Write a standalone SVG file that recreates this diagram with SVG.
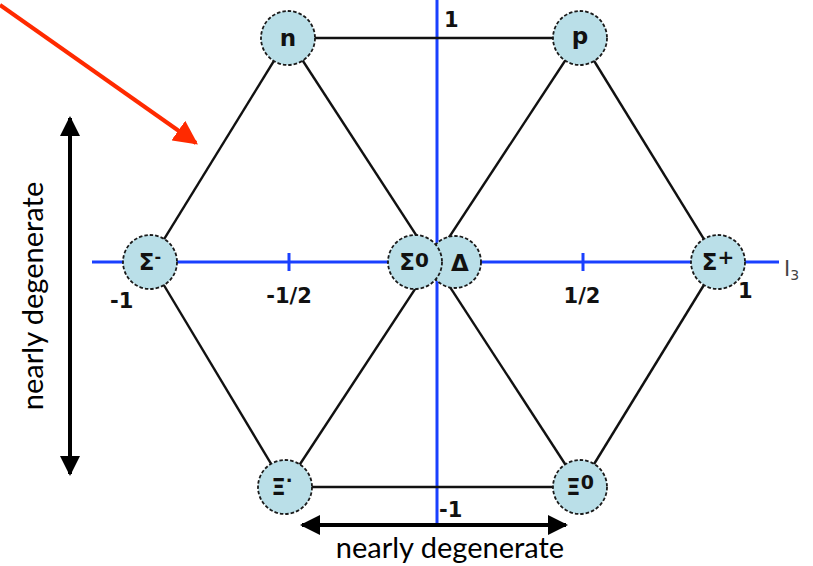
<svg xmlns="http://www.w3.org/2000/svg" width="813" height="566" viewBox="0 0 813 566">
<defs>
<style>
.node circle{fill:#badfe8;stroke:#1a1a1a;stroke-width:1.8;stroke-dasharray:3.5 2}
.node text{font-family:"DejaVu Sans",Verdana,sans-serif;font-weight:bold;font-size:23px;fill:#111;text-anchor:middle}
.edge{stroke:#111;stroke-width:2.4;fill:none}
.axis{stroke:#1a40ff;stroke-width:3;fill:none}
.lbl{font-family:"DejaVu Sans",Verdana,sans-serif;font-weight:bold;font-size:21px;fill:#111}
.note{font-family:"Lato","Open Sans",sans-serif;font-size:29px;fill:#000}
</style>
<marker id="ah" viewBox="0 0 10 10" refX="9" refY="5" markerWidth="5" markerHeight="5" orient="auto-start-reverse" markerUnits="strokeWidth">
<path d="M0,0 L10,5 L0,10 z" fill="#000"/>
</marker>
<marker id="ahr" viewBox="0 0 10 10" refX="9" refY="5" markerWidth="6" markerHeight="6" orient="auto" markerUnits="strokeWidth">
<path d="M0,0 L10,5 L0,10 z" fill="#ff2a00"/>
</marker>
</defs>
<g id="axes">
<line class="axis" x1="437" y1="0" x2="437" y2="526"/>
<line class="axis" x1="92" y1="262" x2="779" y2="262"/>
<line class="axis" x1="289" y1="253" x2="289" y2="271"/>
<line class="axis" x1="583" y1="253" x2="583" y2="271"/>
</g>
<g id="connectors">
<line class="edge" x1="288" y1="38" x2="580" y2="38"/>
<line class="edge" x1="288" y1="38" x2="150" y2="262"/>
<line class="edge" x1="580" y1="38" x2="718" y2="262"/>
<line class="edge" x1="150" y1="262" x2="285" y2="487"/>
<line class="edge" x1="718" y1="262" x2="580" y2="487"/>
<line class="edge" x1="285" y1="487" x2="580" y2="487"/>
<line class="edge" x1="288" y1="38" x2="580" y2="487"/>
<line class="edge" x1="580" y1="38" x2="285" y2="487"/>
</g>
<g id="axis-labels">
<text class="lbl" x="444" y="27">1</text>
<text class="lbl" x="439" y="517">-1</text>
<text class="lbl" x="110" y="308">-1</text>
<text class="lbl" x="738" y="298">1</text>
<text class="lbl" x="289" y="303" text-anchor="middle">-1/2</text>
<text class="lbl" x="582" y="303" text-anchor="middle">1/2</text>
<text x="784" y="276" font-family="DejaVu Sans,sans-serif" font-size="21" fill="#444">I<tspan font-size="14" dy="4">3</tspan></text>
</g>
<g id="node-n" class="node"><circle cx="288" cy="38" r="27"/><text x="288" y="46">n</text></g>
<g id="node-p" class="node"><circle cx="580" cy="38" r="27"/><text x="580" y="44">p</text></g>
<g id="node-Sigma-minus" class="node"><circle cx="150" cy="262" r="27"/><text x="150" y="270">Σ<tspan font-size="16" dy="-8">-</tspan></text></g>
<g id="node-Lambda" class="node"><circle cx="455" cy="262" r="26"/><text x="460" y="271">Δ</text></g>
<g id="node-Sigma0" class="node"><circle cx="415" cy="262" r="27"/><text x="414" y="270">Σ<tspan font-size="20" dy="-3">0</tspan></text></g>
<g id="node-Sigma-plus" class="node"><circle cx="718" cy="262" r="27"/><text x="718" y="270">Σ<tspan font-size="20" dy="-6">+</tspan></text></g>
<g id="node-Xi-minus" class="node"><circle cx="285" cy="487" r="27"/><text x="282" y="495">Ξ<tspan font-size="18" dy="-8">·</tspan></text></g>
<g id="node-Xi0" class="node"><circle cx="580" cy="487" r="27"/><text x="580" y="495">Ξ<tspan font-size="19" dy="-6">0</tspan></text></g>
<g id="annotations">
<line x1="0" y1="5" x2="196" y2="143" stroke="#ff2a00" stroke-width="4" marker-end="url(#ahr)"/>
<line x1="70" y1="118" x2="70" y2="474" stroke="#000" stroke-width="4" marker-start="url(#ah)" marker-end="url(#ah)"/>
<line x1="302" y1="525" x2="566" y2="525" stroke="#000" stroke-width="4" marker-start="url(#ah)" marker-end="url(#ah)"/>
<text class="note" x="0" y="0" text-anchor="middle" transform="translate(43 296) rotate(-90)">nearly degenerate</text>
<text class="note" x="450" y="558" text-anchor="middle">nearly degenerate</text>
</g>
</svg>
